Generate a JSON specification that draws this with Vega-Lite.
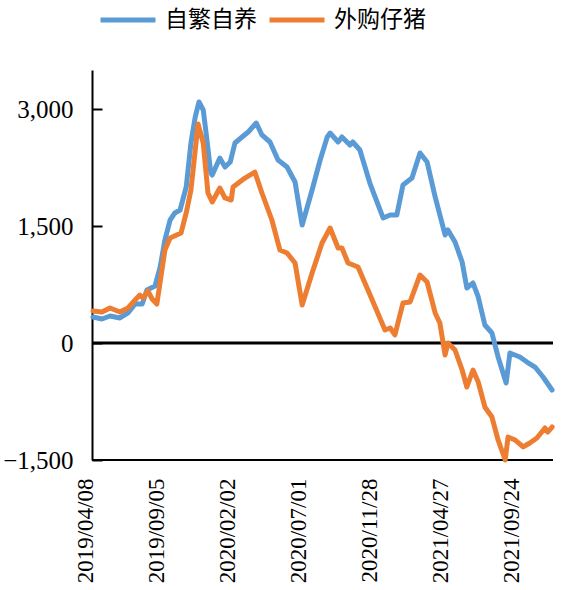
{
  "$schema": "https://vega.github.io/schema/vega-lite/v6.json",
  "width": 461,
  "height": 390,
  "autosize": {"type": "none"},
  "padding": {"left": 92, "top": 70, "right": 10, "bottom": 130},
  "config": {"view": {"stroke": null}, "font": "Times New Roman, Liberation Serif, serif"},
  "datasets": {
    "pigs": [
      {"d": "2019-04-24", "s": "自繁自养", "v": 333},
      {"d": "2019-05-13", "s": "自繁自养", "v": 308},
      {"d": "2019-05-30", "s": "自繁自养", "v": 346},
      {"d": "2019-06-20", "s": "自繁自养", "v": 321},
      {"d": "2019-07-07", "s": "自繁自养", "v": 385},
      {"d": "2019-07-22", "s": "自繁自养", "v": 500},
      {"d": "2019-08-06", "s": "自繁自养", "v": 500},
      {"d": "2019-08-16", "s": "自繁自养", "v": 680},
      {"d": "2019-09-02", "s": "自繁自养", "v": 730},
      {"d": "2019-09-13", "s": "自繁自养", "v": 974},
      {"d": "2019-09-23", "s": "自繁自养", "v": 1320},
      {"d": "2019-10-04", "s": "自繁自养", "v": 1577},
      {"d": "2019-10-14", "s": "自繁自养", "v": 1667},
      {"d": "2019-10-25", "s": "自繁自养", "v": 1705},
      {"d": "2019-11-07", "s": "自繁自养", "v": 2000},
      {"d": "2019-11-17", "s": "自繁自养", "v": 2564},
      {"d": "2019-11-26", "s": "自繁自养", "v": 2897},
      {"d": "2019-12-04", "s": "自繁自养", "v": 3090},
      {"d": "2019-12-13", "s": "自繁自养", "v": 2987},
      {"d": "2019-12-19", "s": "自繁自养", "v": 2692},
      {"d": "2019-12-29", "s": "自繁自养", "v": 2179},
      {"d": "2020-01-01", "s": "自繁自养", "v": 2154},
      {"d": "2020-01-17", "s": "自繁自养", "v": 2372},
      {"d": "2020-01-28", "s": "自繁自养", "v": 2256},
      {"d": "2020-02-08", "s": "自繁自养", "v": 2320},
      {"d": "2020-02-18", "s": "自繁自养", "v": 2564},
      {"d": "2020-03-04", "s": "自繁自养", "v": 2641},
      {"d": "2020-03-17", "s": "自繁自养", "v": 2705},
      {"d": "2020-04-03", "s": "自繁自养", "v": 2820},
      {"d": "2020-04-15", "s": "自繁自养", "v": 2667},
      {"d": "2020-05-02", "s": "自繁自养", "v": 2577},
      {"d": "2020-05-19", "s": "自繁自养", "v": 2346},
      {"d": "2020-06-07", "s": "自繁自养", "v": 2256},
      {"d": "2020-06-24", "s": "自繁自养", "v": 2064},
      {"d": "2020-07-09", "s": "自繁自养", "v": 1513},
      {"d": "2020-07-30", "s": "自繁自养", "v": 1961},
      {"d": "2020-08-16", "s": "自繁自养", "v": 2346},
      {"d": "2020-08-31", "s": "自繁自养", "v": 2641},
      {"d": "2020-09-06", "s": "自繁自养", "v": 2692},
      {"d": "2020-09-23", "s": "自繁自养", "v": 2577},
      {"d": "2020-10-01", "s": "自繁自养", "v": 2641},
      {"d": "2020-10-18", "s": "自繁自养", "v": 2538},
      {"d": "2020-10-24", "s": "自繁自养", "v": 2577},
      {"d": "2020-11-08", "s": "自繁自养", "v": 2474},
      {"d": "2020-11-29", "s": "自繁自养", "v": 2051},
      {"d": "2020-12-27", "s": "自繁自养", "v": 1603},
      {"d": "2021-01-11", "s": "自繁自养", "v": 1641},
      {"d": "2021-01-25", "s": "自繁自养", "v": 1641},
      {"d": "2021-02-07", "s": "自繁自养", "v": 2026},
      {"d": "2021-02-26", "s": "自繁自养", "v": 2115},
      {"d": "2021-03-15", "s": "自繁自养", "v": 2436},
      {"d": "2021-03-30", "s": "自繁自养", "v": 2320},
      {"d": "2021-04-16", "s": "自繁自养", "v": 1872},
      {"d": "2021-05-07", "s": "自繁自养", "v": 1385},
      {"d": "2021-05-13", "s": "自繁自养", "v": 1449},
      {"d": "2021-05-28", "s": "自繁自养", "v": 1295},
      {"d": "2021-06-12", "s": "自繁自养", "v": 1038},
      {"d": "2021-06-22", "s": "自繁自养", "v": 705},
      {"d": "2021-07-05", "s": "自繁自养", "v": 769},
      {"d": "2021-07-16", "s": "自繁自养", "v": 590},
      {"d": "2021-07-30", "s": "自繁自养", "v": 231},
      {"d": "2021-08-14", "s": "自繁自养", "v": 128},
      {"d": "2021-08-27", "s": "自繁自养", "v": -179},
      {"d": "2021-09-13", "s": "自繁自养", "v": -513},
      {"d": "2021-09-21", "s": "自繁自养", "v": -128},
      {"d": "2021-10-12", "s": "自繁自养", "v": -179},
      {"d": "2021-10-27", "s": "自繁自养", "v": -244},
      {"d": "2021-11-13", "s": "自繁自养", "v": -308},
      {"d": "2021-11-30", "s": "自繁自养", "v": -436},
      {"d": "2021-12-19", "s": "自繁自养", "v": -603},
      {"d": "2019-04-24", "s": "外购仔猪", "v": 410},
      {"d": "2019-05-13", "s": "外购仔猪", "v": 397},
      {"d": "2019-05-30", "s": "外购仔猪", "v": 449},
      {"d": "2019-06-20", "s": "外购仔猪", "v": 397},
      {"d": "2019-07-07", "s": "外购仔猪", "v": 449},
      {"d": "2019-07-22", "s": "外购仔猪", "v": 551},
      {"d": "2019-08-01", "s": "外购仔猪", "v": 615},
      {"d": "2019-08-08", "s": "外购仔猪", "v": 577},
      {"d": "2019-08-18", "s": "外购仔猪", "v": 667},
      {"d": "2019-08-27", "s": "外购仔猪", "v": 564},
      {"d": "2019-09-06", "s": "外购仔猪", "v": 500},
      {"d": "2019-09-23", "s": "外购仔猪", "v": 1192},
      {"d": "2019-10-04", "s": "外购仔猪", "v": 1346},
      {"d": "2019-10-27", "s": "外购仔猪", "v": 1410},
      {"d": "2019-11-07", "s": "外购仔猪", "v": 1667},
      {"d": "2019-11-17", "s": "外购仔猪", "v": 1961},
      {"d": "2019-12-02", "s": "外购仔猪", "v": 2808},
      {"d": "2019-12-13", "s": "外购仔猪", "v": 2564},
      {"d": "2019-12-23", "s": "外购仔猪", "v": 1923},
      {"d": "2020-01-01", "s": "外购仔猪", "v": 1808},
      {"d": "2020-01-17", "s": "外购仔猪", "v": 1987},
      {"d": "2020-01-28", "s": "外购仔猪", "v": 1859},
      {"d": "2020-02-10", "s": "外购仔猪", "v": 1833},
      {"d": "2020-02-14", "s": "外购仔猪", "v": 2000},
      {"d": "2020-03-10", "s": "外购仔猪", "v": 2115},
      {"d": "2020-03-31", "s": "外购仔猪", "v": 2192},
      {"d": "2020-04-15", "s": "外购仔猪", "v": 1923},
      {"d": "2020-05-06", "s": "外购仔猪", "v": 1577},
      {"d": "2020-05-23", "s": "外购仔猪", "v": 1192},
      {"d": "2020-06-07", "s": "外购仔猪", "v": 1154},
      {"d": "2020-06-24", "s": "外购仔猪", "v": 1026},
      {"d": "2020-07-09", "s": "外购仔猪", "v": 487},
      {"d": "2020-07-30", "s": "外购仔猪", "v": 897},
      {"d": "2020-08-20", "s": "外购仔猪", "v": 1282},
      {"d": "2020-09-06", "s": "外购仔猪", "v": 1474},
      {"d": "2020-09-23", "s": "外购仔猪", "v": 1218},
      {"d": "2020-10-01", "s": "外购仔猪", "v": 1218},
      {"d": "2020-10-14", "s": "外购仔猪", "v": 1026},
      {"d": "2020-11-04", "s": "外购仔猪", "v": 974},
      {"d": "2020-11-25", "s": "外购仔猪", "v": 679},
      {"d": "2020-12-31", "s": "外购仔猪", "v": 167},
      {"d": "2021-01-11", "s": "外购仔猪", "v": 192},
      {"d": "2021-01-21", "s": "外购仔猪", "v": 103},
      {"d": "2021-02-07", "s": "外购仔猪", "v": 513},
      {"d": "2021-02-22", "s": "外购仔猪", "v": 526},
      {"d": "2021-03-15", "s": "外购仔猪", "v": 872},
      {"d": "2021-03-30", "s": "外购仔猪", "v": 782},
      {"d": "2021-04-16", "s": "外购仔猪", "v": 385},
      {"d": "2021-04-26", "s": "外购仔猪", "v": 256},
      {"d": "2021-05-07", "s": "外购仔猪", "v": -154},
      {"d": "2021-05-13", "s": "外购仔猪", "v": 0},
      {"d": "2021-05-28", "s": "外购仔猪", "v": -90},
      {"d": "2021-06-12", "s": "外购仔猪", "v": -346},
      {"d": "2021-06-22", "s": "外购仔猪", "v": -564},
      {"d": "2021-07-05", "s": "外购仔猪", "v": -346},
      {"d": "2021-07-16", "s": "外购仔猪", "v": -500},
      {"d": "2021-07-30", "s": "外购仔猪", "v": -820},
      {"d": "2021-08-14", "s": "外购仔猪", "v": -949},
      {"d": "2021-08-27", "s": "外购仔猪", "v": -1244},
      {"d": "2021-09-11", "s": "外购仔猪", "v": -1500},
      {"d": "2021-09-17", "s": "外购仔猪", "v": -1205},
      {"d": "2021-10-02", "s": "外购仔猪", "v": -1244},
      {"d": "2021-10-19", "s": "外购仔猪", "v": -1333},
      {"d": "2021-11-02", "s": "外购仔猪", "v": -1282},
      {"d": "2021-11-17", "s": "外购仔猪", "v": -1218},
      {"d": "2021-12-04", "s": "外购仔猪", "v": -1090},
      {"d": "2021-12-10", "s": "外购仔猪", "v": -1141},
      {"d": "2021-12-19", "s": "外购仔猪", "v": -1077}
    ]
  },
  "layer": [
    {
      "data": {"values": [{"y": 0, "w": 3}, {"y": -1500, "w": 2}]},
      "mark": {"type": "rule", "color": "black"},
      "encoding": {
        "y": {"field": "y", "type": "quantitative"},
        "strokeWidth": {"field": "w", "type": "quantitative", "scale": null, "legend": null}
      }
    },
    {
      "data": {"name": "pigs"},
      "mark": {"type": "line", "strokeWidth": 5, "strokeJoin": "round", "strokeCap": "round"},
      "encoding": {
        "x": {
          "field": "d",
          "type": "temporal",
          "scale": {
            "domain": [{"year": 2019, "month": 4, "date": 8}, {"year": 2021, "month": 12, "date": 21}],
            "range": [-6.6, 461]
          },
          "axis": {
            "title": null,
            "values": [
              {"year": 2019, "month": 4, "date": 8},
              {"year": 2019, "month": 9, "date": 5},
              {"year": 2020, "month": 2, "date": 2},
              {"year": 2020, "month": 7, "date": 1},
              {"year": 2020, "month": 11, "date": 28},
              {"year": 2021, "month": 4, "date": 27},
              {"year": 2021, "month": 9, "date": 24}
            ],
            "format": "%Y/%m/%d",
            "labelAngle": 270,
            "labelFlush": false,
            "labelBound": false,
            "labelOverlap": false,
            "ticks": false,
            "grid": false,
            "domain": false,
            "labelFont": "Times New Roman, Liberation Serif, serif",
            "labelFontSize": 23,
            "labelColor": "black",
            "labelPadding": 18
          }
        },
        "y": {
          "field": "v",
          "type": "quantitative",
          "scale": {"domain": [-1500, 3500], "nice": false, "zero": false},
          "axis": {
            "title": null,
            "values": [-1500, 0, 1500, 3000],
            "format": ",.0f",
            "grid": false,
            "tickSize": -10,
            "tickWidth": 2,
            "tickColor": "black",
            "domainColor": "black",
            "domainWidth": 2,
            "labelFont": "Times New Roman, Liberation Serif, serif",
            "labelFontSize": 25,
            "labelColor": "black",
            "labelPadding": 29,
            "labelFlush": false
          }
        },
        "color": {
          "field": "s",
          "type": "nominal",
          "scale": {"domain": ["自繁自养", "外购仔猪"], "range": ["#5B9BD5", "#ED7D31"]},
          "legend": {
            "title": null,
            "orient": "none",
            "legendX": 6,
            "legendY": -80,
            "direction": "horizontal",
            "symbolType": "stroke",
            "symbolSize": 3025,
            "symbolStrokeWidth": 5,
            "labelFont": "Noto Sans CJK SC",
            "labelFontSize": 23,
            "labelColor": "black",
            "labelOffset": 7,
            "columnPadding": 2
          }
        }
      }
    }
  ]
}
